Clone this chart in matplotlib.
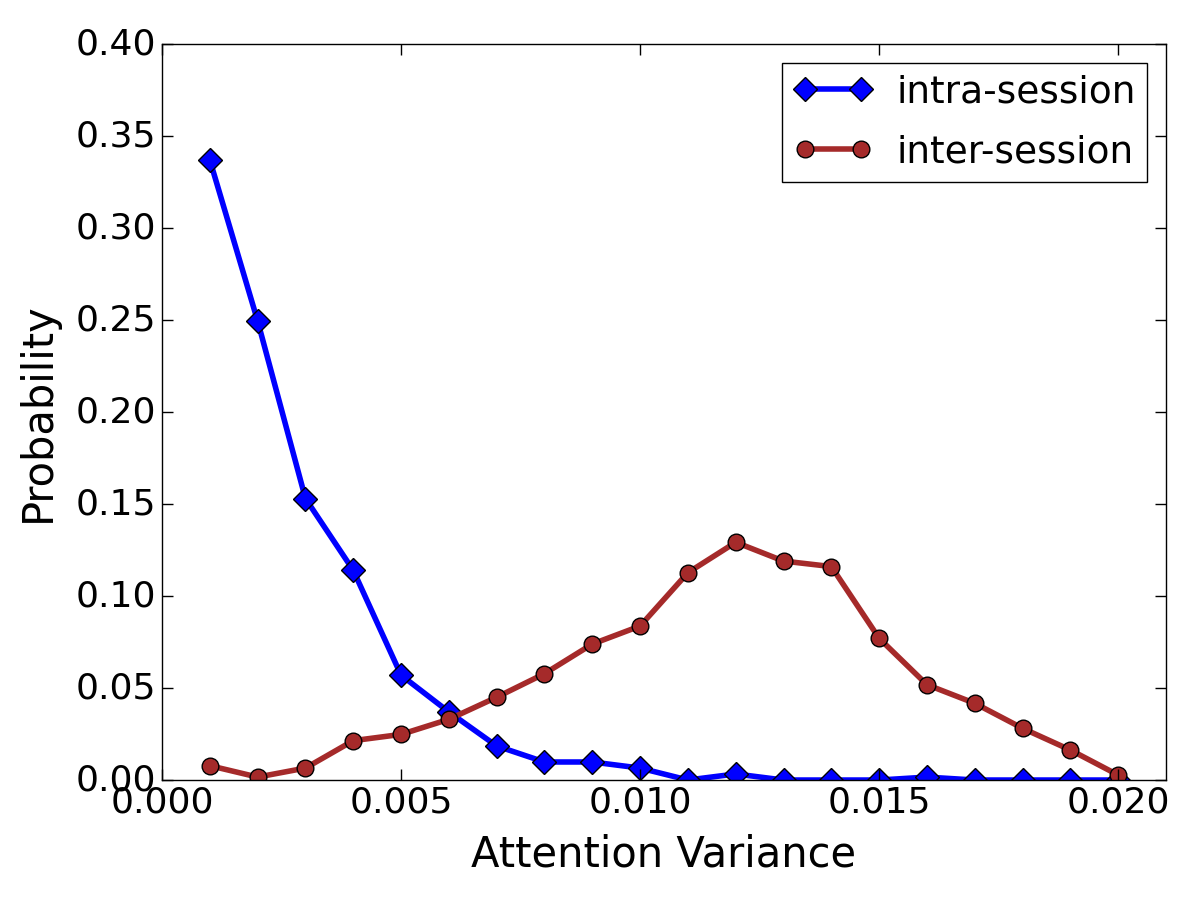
import matplotlib
matplotlib.use("Agg")
import matplotlib.pyplot as plt
import numpy as np

plt.style.use("classic")

variance = [0.001, 0.002, 0.003, 0.004, 0.005, 0.006, 0.007, 0.008, 0.009, 0.010,
            0.011, 0.012, 0.013, 0.014, 0.015, 0.016, 0.017, 0.018, 0.019, 0.020]
intra = [0.337, 0.2495, 0.153, 0.114, 0.057, 0.037, 0.0185, 0.0098, 0.0098, 0.0065,
         0.0, 0.0033, 0.0, 0.0, 0.0, 0.0016, 0.0, 0.0, 0.0, 0.0]
inter = [0.0078, 0.0016, 0.0065, 0.0214, 0.0248, 0.033, 0.045, 0.0578, 0.0739, 0.0837,
         0.1127, 0.1292, 0.119, 0.116, 0.077, 0.0518, 0.0417, 0.0281, 0.0163, 0.0027]

fig = plt.figure(figsize=(12, 9), dpi=100, facecolor="white")
ax = fig.add_axes([0.135, 0.1333, 0.8367, 0.8178])

ax.plot(variance, intra, color="blue", lw=4, marker="D", ms=12,
        mec="black", mew=1, label="intra-session")
ax.plot(variance, inter, color="brown", lw=4, marker="o", ms=12,
        mec="black", mew=1, label="inter-session")

ax.set_xlim(0, 0.021)
ax.set_ylim(0, 0.40)
ax.set_xticks(np.arange(0, 0.0201, 0.005))
ax.set_yticks(np.arange(0, 0.401, 0.05))
ax.set_xticklabels(["%.3f" % t for t in ax.get_xticks()])
ax.set_yticklabels(["%.2f" % t for t in ax.get_yticks()])
ax.tick_params(labelsize=26, length=8, width=1)

ax.set_xlabel("Attention Variance", fontsize=30, labelpad=10)
ax.set_ylabel("Probability", fontsize=30, labelpad=12)

ax.legend(loc="upper right", fontsize=27, numpoints=2, fancybox=False,
          handlelength=2.1, handletextpad=0.65, borderpad=0.3,
          labelspacing=0.65, borderaxespad=0.5)

fig.savefig("out.png", dpi=100, facecolor="white")
